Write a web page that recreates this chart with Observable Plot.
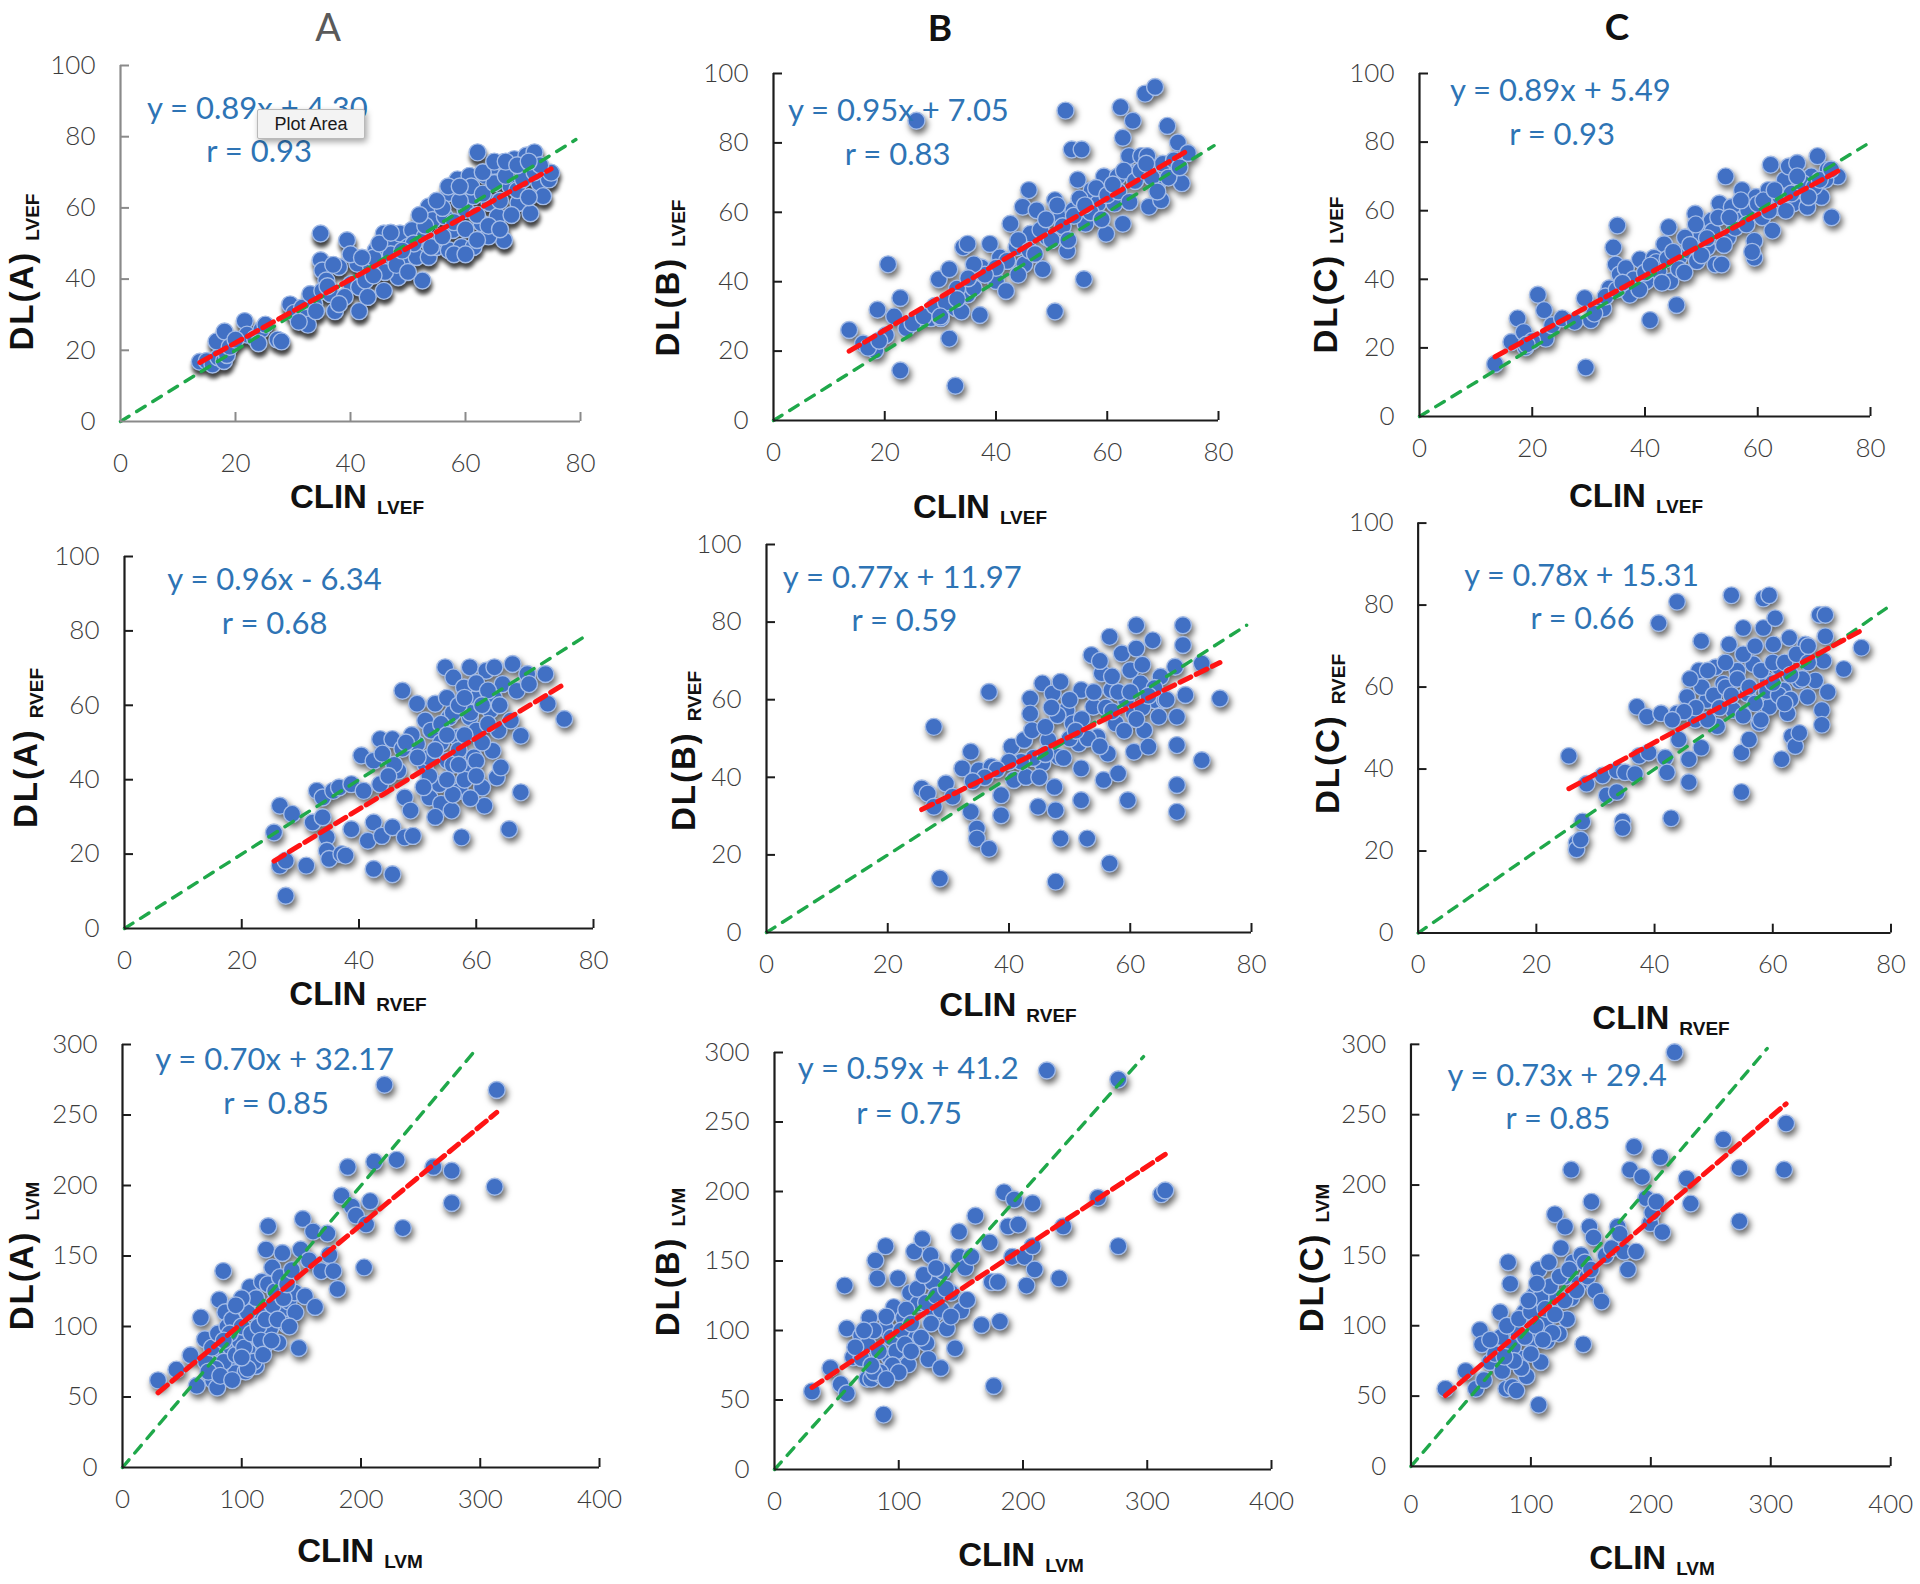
<!DOCTYPE html>
<html>
<head>
<meta charset="utf-8">
<script src="https://cdn.jsdelivr.net/npm/d3@7"></script>
<script src="https://cdn.jsdelivr.net/npm/@observablehq/plot@0.6"></script>
<style>
  html, body { margin: 0; padding: 0; background: #ffffff; }
  #page { position: relative; width: 1920px; height: 1584px; overflow: hidden; background: #fff; }
  .panel { position: absolute; }
  #overlay { position: absolute; left: 0; top: 0; pointer-events: none; }
  #tip { position: absolute; left: 257px; top: 109px; width: 106px; height: 28px; background: #f3f3f3;
         border: 1px solid #b9b9b9; box-shadow: 2px 3px 6px rgba(0,0,0,0.35); font-family: "Liberation Sans", Arial, sans-serif;
         font-size: 18px; color: #1a1a1a; line-height: 28px; text-align: center; border-radius: 2px; }
</style>
</head>
<body>
<div id="page"></div>
<script>
// ---------------- data (CLIN value, DL value) ----------------
const A_LVEF = [[13.8,16.8],[15,17],[16,16],[17,18],[18,17],[16.7,22.5],[18.1,25.3],[18.5,18.7],[21.6,28.2],[22,24.4],[23.4,23.4],[24.5,25.8],[25.2,27.2],[27.3,23],[28,22.5],[29.5,32.9],[30.2,30.5],[31.6,32],[32.3,29.1],[32.6,27.2],[33.7,32.9],[33,35.8],[34.8,52.8],[34.8,45.3],[35.1,42.4],[35.8,39.6],[35.1,36.7],[36.5,35.8],[37.3,31],[38,43.4],[39.4,50.9],[40.1,38.6],[41.2,44.3],[41.5,31],[41.5,37.7],[42.6,39.6],[43.6,43.4],[44.4,48.1],[45.8,36.7],[45.8,52.8],[46.5,45.3],[47.2,50],[48.3,40.5],[48.6,52.8],[49.3,46.2],[50,49],[50.7,53.8],[51.5,46.2],[52.5,39.6],[52.9,51.9],[53.6,60.4],[53.6,46.2],[54.3,56.6],[55,49],[55.7,51.9],[56.4,57.6],[57.1,64.2],[57.1,48.1],[57.8,53.8],[58.6,68],[59.3,49],[60,59.5],[60.7,69],[61.4,49],[61.4,63.3],[62.1,75.6],[62.8,55.7],[63.5,69],[64.2,61.4],[64.9,71.8],[65.6,57.6],[66.4,72.8],[66.7,50.9],[67.8,66.1],[68.5,73.7],[69.2,61.4],[69.9,70.9],[70.6,74.7],[71.3,58.5],[72,75.6],[72.8,67.1],[73.5,63.3],[74.5,68],[74.9,69.9],
  [44,46],[46,42],[47,47],[48,44],[50,42],[51,50],[53,55],[54,49],[56,52],[56,60],[58,56],[59,62],[60,54],[61,66],[62,58],[63,64],[64,52],[65,67],[66,62],[67,69],[68,58],[69,65],[70,68],[71,63],[72,70],[73,72],[58,47],[60,47],[62,51],[64,55],[66,54],[43,35],[44,41],[39,35],[38,33],[36,38],[37,44],[40,47],[42,46],[45,50],[47,53],[49,48],[52,58],[55,62],[57,66],[59,66],[63,70],[65,73],[67,73],[69,72],[71,73],[19,21],[20,23],[24,22],[31,28],[34,31]];

const B_LVEF = [[13.6,26.1],[16.1,22.2],[18.3,20.2],[18.7,31.9],[20.2,24.6],[20.6,45],[21.7,30],[22.8,14.4],[22.8,35.3],[23.9,26.6],[25.7,86.4],[26.8,29.5],[28.3,29.5],[29.7,40.7],[30.1,29.5],[31.6,43.6],[31.6,23.6],[32.7,10],[32.7,32.4],[33.8,31.4],[34.1,49.9],[34.9,50.9],[34.9,36.3],[36,38.2],[37.1,30.4],[37.4,44.1],[38.9,50.9],[40,40.2],[40.7,47],[41.8,37.3],[42.6,56.7],[43.7,49.9],[44.8,61.6],[45.1,45],[45.9,66.4],[46.2,53.8],[47.3,60.6],[48.4,43.6],[49.2,52.8],[50.6,31.4],[50.6,63.5],[51.7,58.7],[52.5,89.3],[52.8,48.9],[53.6,78.1],[53.9,60.6],[54.7,69.4],[55.4,78.1],[55.8,40.7],[56.1,56.7],[57.2,66.4],[58.3,62.5],[59.4,70.3],[59.8,53.8],[61.3,62.5],[61.9,70.3],[62.4,90.3],[62.8,81.5],[62.8,56.7],[63.9,76.2],[64.6,86.4],[65,71.3],[66.1,76.2],[66.8,94.2],[67.2,76.2],[67.5,61.6],[68.6,96.1],[69,68.4],[69.7,63.5],[70.8,84.9],[71.6,72.3],[72.7,80.1],[73.4,68.4],[74.5,77.1],
  [42,46],[44,52],[46,49],[48,55],[50,52],[52,56],[54,59],[55,64],[57,60],[58,67],[60,65],[62,66],[63,72],[65,69],[66,72],[68,70],[70,74],[72,75],[40,44],[38,42],[36,45],[44,42],[47,48],[49,58],[51,62],[53,52],[56,62],[59,58],[61,68],[64,63],[67,74],[69,66],[71,70],[73,73],[25,28],[27,30],[29,33],[31,34],[33,38],[35,41],[30,30],[33,35],[17,21],[19,23]];

const C_LVEF = [[13.4,15.3],[16.3,21.7],[17.4,28.6],[18.5,24.6],[18.8,20.2],[21,35.5],[22.1,31],[22.4,22.7],[23.5,26.6],[25.3,28.6],[27.5,27.6],[29.3,34.5],[29.5,14.3],[30.4,28.1],[32.6,31.5],[33.7,37.4],[34.4,49.3],[34.8,44.3],[35.1,55.7],[35.5,41.4],[36.6,43.3],[37.3,35.5],[39.1,45.8],[40.2,39.4],[40.9,28.1],[41.6,46.3],[42.4,42.4],[43.4,50.2],[44.2,55.2],[44.5,39.4],[45.6,32.5],[46,46.3],[47.1,52.2],[47.8,48.3],[48.9,59.1],[49.2,45.3],[50,53.2],[51,49.3],[51.8,57.1],[52.5,44.3],[53.2,62.1],[53.6,44.3],[54.3,70],[54.7,52.2],[55.4,61.1],[56.5,57.1],[57.2,66],[58.3,60.1],[59.4,46.3],[59.4,51.2],[59.7,64],[60.8,58.1],[61.9,66],[62.3,73.4],[62.6,54.2],[63.7,61.1],[64.8,69],[65.5,72.9],[66.3,62.1],[67,73.9],[68.1,66],[68.8,61.1],[69.5,70],[70.6,75.9],[71.3,64],[72.4,71.9],[73.1,58.1],[74.2,70],
  [38,40],[40,42],[42,45],[44,46],[46,43],[48,50],[50,47],[52,54],[54,50],[56,55],[58,56],[60,62],[62,60],[64,64],[66,65],[68,68],[70,67],[72,69],[39,37],[41,44],[43,39],[47,42],[49,56],[53,58],[55,58],[57,63],[61,63],[63,66],[65,60],[67,70],[69,64],[71,69],[73,72],[33,35],[31,30],[35,37],[20,22],[19,21],[36,39],[45,48],[51,52],[59,48]];

const A_RVEF = [[25.5,25.8],[26.5,33],[26.5,16.9],[27.5,18.2],[27.5,8.8],[28.6,30.8],[31,16.9],[32.1,28.5],[32.8,37],[33.8,35.2],[33.8,29.9],[34.5,24.5],[34.5,20.9],[34.9,18.7],[35.6,37],[36.6,37.9],[37,20],[37.7,19.6],[38.7,38.8],[38.7,26.7],[40.4,46.5],[40.8,37],[41.5,23.6],[42.5,45.1],[42.5,28.5],[42.5,16],[43.6,50.9],[43.6,38.8],[43.9,24.9],[45.7,50.9],[45.7,27.2],[45.7,14.6],[46.7,42.4],[47.4,63.9],[47.4,48.3],[47.8,35.2],[47.8,24.5],[48.8,31.7],[49.2,24.9],[49.9,60.4],[49.9,49.6],[51.3,44.2],[51.3,55.9],[52,35.2],[52.3,53.2],[53,60.4],[53.7,38.8],[54,33.5],[54.7,70.2],[55.1,45.1],[55.4,56.8],[55.8,31.7],[56.1,67.5],[56.8,51.4],[57.2,37],[57.5,24.5],[57.9,64.8],[58.2,42.4],[58.9,70.2],[58.9,56.8],[59.6,46],[60,53.2],[60.3,62.2],[61,37.9],[61.4,33],[61.7,69.3],[62.4,58.7],[62.8,47.8],[63.1,70.2],[63.5,40.6],[63.8,53.2],[64.5,65.7],[64.2,43.3],[65.6,26.7],[65.9,55.9],[66.2,71.1],[66.9,63.9],[67.6,51.8],[67.6,36.6],[68.7,68.4],[69,65.7],[71.8,68.4],[72.2,60.4],[75,56.3],
  [52,46],[54,50],[56,44],[57,48],[58,52],[59,58],[60,45],[61,50],[62,55],[63,62],[56,58],[55,62],[54,55],[53,48],[57,60],[60,66],[62,64],[64,60],[58,40],[56,36],[55,40],[59,35],[52,41],[50,46],[49,52],[46,44],[45,41],[44,47],[48,50],[51,38],[53,30],[55,52],[58,62],[61,60],[57,44],[60,41]];

const B_RVEF = [[25.6,37.1],[26.6,35.8],[27.6,32.4],[27.6,53],[28.6,13.9],[29.6,38.4],[30.7,35],[32.3,42.3],[33.7,46.6],[33.7,31.1],[34.7,26.8],[34.7,24.2],[35,41.8],[36.7,21.6],[36.7,62],[37.1,42.7],[38.7,35.4],[38.7,30.2],[40.4,47.9],[40.8,39.3],[42.5,49.6],[42.8,40.1],[43.5,60.3],[43.5,56.4],[43.8,52.1],[44.8,32.4],[45.5,64.2],[45.5,43.6],[46.5,49.6],[47.2,61.6],[47.5,37.5],[47.7,31.5],[47.7,13.1],[48.2,45.3],[48.5,64.6],[48.5,24.2],[49.5,57.3],[50.5,53.9],[51.5,48.7],[51.9,62.5],[51.9,42.3],[51.9,34.1],[52.9,24.2],[53.6,71.5],[53.9,58.2],[54.6,50.4],[55.3,66.8],[55.6,39.3],[56.3,46.1],[56.6,17.8],[56.6,76.2],[56.9,62.5],[57.6,53.9],[58,41],[58.6,71.9],[59.3,59.9],[59.6,34.1],[60,67.6],[60.6,56.4],[60.6,46.6],[61,79.2],[61,73.2],[61.7,64.2],[62.3,52.1],[63,47.9],[63.7,75.3],[64,59.9],[64.7,55.6],[65,65.9],[65.7,59.9],[67.4,68.5],[67.7,55.6],[67.7,48.3],[67.7,38],[67.7,31.1],[68.7,79.2],[68.7,74.1],[69.1,61.2],[71.8,69.3],[71.8,44.4],[74.8,60.3],
  [44,45],[46,53],[48,56],[50,60],[52,55],[54,62],[56,58],[58,62],[60,62],[62,58],[64,63],[53,50],[55,48],[57,57],[59,52],[61,55],[63,61],[66,60],[50,50],[47,58],[49,45],[51,52],[45,40],[42,44],[40,44],[38,42],[36,40],[34,39],[46,46],[62,69],[57,66],[55,70]];

const C_RVEF = [[25.5,43.2],[26.8,22],[26.8,20.4],[27.5,22.8],[27.8,27.2],[28.5,36.4],[31.2,38.4],[31.9,33.6],[33.6,34.4],[33.6,39.6],[34.6,27.2],[34.6,25.6],[35,39.2],[36.7,38.8],[37,55.2],[37.4,43.2],[38.7,52.8],[39,44],[40.7,75.6],[41.1,53.6],[41.8,42.8],[42.1,39.2],[42.8,28],[43.8,80.8],[43.8,53.6],[44.1,47.2],[45.5,57.6],[45.8,42.4],[45.8,36.8],[46.9,52],[47.5,64],[47.9,71.2],[47.9,45.2],[48.9,56.8],[50.3,64.8],[50.6,50.4],[51.6,60.8],[52.6,70.4],[53,82.4],[53.3,54.4],[54,64],[54.7,44],[54.7,34.4],[55,74.4],[55.7,58.4],[56,47.2],[56.7,65.6],[57.7,51.2],[58.4,81.6],[58.4,74.4],[59.1,61.6],[59.4,82.4],[59.4,55.2],[60.1,70.4],[60.4,76.8],[61.1,64.8],[61.5,42.4],[61.8,59.2],[62.5,53.6],[62.8,72],[63.2,48],[63.8,45.6],[64.5,48.8],[64.5,61.6],[65.5,70.4],[65.9,57.6],[67.2,61.6],[67.9,77.6],[68.3,54.4],[68.3,50.8],[68.6,66.4],[68.9,77.6],[68.9,72.4],[69.3,58.8],[72,64.4],[75,69.6],
  [48,60],[50,58],[52,60],[54,62],[56,60],[58,64],[60,66],[62,66],[64,68],[66,66],[51,55],[53,58],[55,53],[57,56],[59,59],[61,58],[63,57],[65,62],[52,66],[55,68],[57,70],[60,61],[49,52],[47,55],[45,54],[43,52],[46,62],[49,64],[58,52],[62,56],[66,70],[63,63]];

const A_LVM = [[29.8,61.8],[45.2,69.4],[57.1,79.6],[62.3,58],[65.7,106.3],[69.1,91],[76,61.8],[79.4,56.7],[81.1,119],[82.8,83.4],[84.5,139.3],[86.2,110.1],[89.6,73.2],[91.4,84.7],[94.8,66.9],[96.5,96.1],[101.6,116.5],[103.3,68.1],[106.8,127.9],[108.5,80.9],[110.2,93.6],[111.9,72],[115.3,108.8],[117,131.7],[118.7,85.9],[120.4,154.6],[122.2,171.1],[123.9,98.7],[125.6,141.9],[127.3,116.5],[130.7,88.5],[134.1,152.1],[134.1,108.8],[137.6,101.2],[139.3,117.7],[144.4,124.1],[147.8,84.7],[149.5,154.6],[151.2,176.2],[153,121.5],[156.4,147],[159.8,167.3],[161.5,113.9],[166.6,139.3],[171.8,166],[173.5,150.8],[176.9,139.3],[180.3,126.6],[183.7,192.7],[188.9,213.1],[192.3,185.1],[195.7,178.7],[202.6,141.9],[204.3,172.4],[207.7,188.9],[211.1,216.9],[219.7,271.5],[229.9,218.2],[235.1,169.8],[260.7,213.1],[276.1,210.5],[276.1,187.6],[312.1,199.1],[313.8,267.7],
  [70,75],[75,85],[80,95],[85,75],[88,100],[92,105],[95,80],[98,90],[100,100],[102,85],[105,110],[108,95],[112,120],[114,100],[116,90],[120,105],[122,130],[126,115],[128,125],[132,135],[135,120],[138,130],[142,140],[145,110],[100,120],[95,115],[90,95],[85,90],[78,70],[72,68],[82,65],[92,62],[110,75],[118,80],[125,90],[130,105],[140,100],[105,70],[100,78]];

const B_LVM = [[30.2,56.2],[45,73],[53.2,61.4],[56.5,132.3],[58.2,54.9],[58.2,101.4],[63.1,80.7],[69.7,96.2],[74.6,65.3],[76.3,109.1],[77.9,65.3],[81.2,150.4],[82.8,137.5],[86.1,67.8],[87.8,39.5],[89.4,160.7],[89.4,101.4],[92.7,80.7],[96,116.8],[99.3,137.5],[100.9,91],[104.2,109.1],[107.5,75.6],[109.1,127.2],[110.8,96.2],[112.4,156.8],[115.7,119.4],[119,165.8],[122.3,91],[123.9,79.4],[125.6,154.2],[127.2,134.9],[128.8,111.7],[133.8,73],[135.4,142.6],[138.7,101.4],[142,127.2],[145.3,87.2],[148.6,171],[148.6,153],[150.2,114.3],[153.5,145.2],[155.1,122],[158.4,153],[161.7,182.6],[166.6,104],[173.2,163.3],[174.8,134.9],[176.5,60.1],[179.8,134.9],[181.4,106.5],[184.7,199.4],[188,174.9],[191.3,153],[192.9,194.2],[196.2,176.2],[201.2,153],[202.8,132.3],[207.7,191.6],[207.7,160.7],[209.4,143.9],[219.2,287.1],[229.1,137.5],[232.4,174.9],[260.3,195.5],[276.7,280.6],[276.7,160.7],[311.3,198.1],[314.5,200.7],
  [70,80],[75,90],[80,100],[84,85],[90,110],[94,95],[98,85],[102,100],[106,115],[110,105],[115,130],[118,95],[122,120],[126,105],[130,125],[134,115],[138,130],[142,110],[95,75],[100,70],[105,90],[110,85],[85,70],[80,70],[90,65],[78,75],[65,88],[72,100],[120,140],[130,145]];

const C_LVM = [[28.7,55.2],[45.6,67.8],[54.1,55.2],[57.5,97],[59.2,86.8],[60.9,61.5],[65.9,74.2],[72.7,84.3],[74.4,109.6],[76.1,67.8],[79.5,55.2],[81.1,145.1],[82.8,129.9],[84.5,56.5],[87.9,53.9],[89.6,94.4],[91.3,76.7],[94.7,109.6],[96.4,64.1],[101.4,89.4],[103.1,122.3],[106.5,43.8],[106.5,140],[108.2,74.2],[111.6,102],[113.3,89.4],[115,145.1],[120,179.2],[121.7,119.7],[123.4,94.4],[125.1,155.2],[128.5,170.4],[128.5,134.9],[130.2,104.6],[133.6,210.9],[133.6,119.7],[135.2,145.1],[140.3,129.9],[142,150.1],[143.7,86.8],[147.1,134.9],[148.8,170.4],[150.5,188.1],[152.2,162.8],[153.8,124.8],[158.9,117.2],[162.3,150.1],[167.4,155.2],[172.4,170.4],[174.1,165.3],[177.5,152.7],[180.9,140],[182.6,210.9],[186,227.3],[187.7,152.7],[192.7,205.8],[196.1,190.6],[199.5,172.9],[201.2,180.5],[204.6,188.1],[207.9,219.7],[209.6,166.6],[219.8,294.4],[229.9,204.6],[233.3,186.8],[260.4,232.4],[273.9,212.2],[273.9,174.2],[311.1,210.9],[312.8,243.8],
  [70,80],[75,92],[80,100],[85,85],[90,105],[95,92],[100,110],[104,100],[108,120],[112,112],[116,128],[120,108],[124,135],[128,118],[132,140],[118,95],[110,90],[100,80],[92,70],[86,75],[78,78],[66,90],[138,125],[145,145],[150,140],[105,130],[98,118]];

// ---------------- tick values, fits, labels ----------------
const efTicksX = [0, 20, 40, 60, 80];
const efTicksY = [0, 20, 40, 60, 80, 100];
const lvmTicksX = [0, 100, 200, 300, 400];
const lvmTicksY = [0, 50, 100, 150, 200, 250, 300];
const slopes = [0.89, 0.95, 0.89, 0.96, 0.77, 0.78, 0.70, 0.59, 0.73];
const intercepts = [4.30, 7.05, 5.49, -6.34, 11.97, 15.31, 32.17, 41.2, 29.4];
const eqLabels = ["y = 0.89x + 4.30", "y = 0.95x + 7.05", "y = 0.89x + 5.49",
                  "y = 0.96x - 6.34", "y = 0.77x + 11.97", "y = 0.78x + 15.31",
                  "y = 0.70x + 32.17", "y = 0.59x + 41.2", "y = 0.73x + 29.4"];
const rLabels = ["r = 0.93", "r = 0.83", "r = 0.93", "r = 0.68", "r = 0.59", "r = 0.66", "r = 0.85", "r = 0.75", "r = 0.85"];
const colTitles = ["A", "B", "C"];
const methods = ["DL(A)", "DL(B)", "DL(C)"];
const measures = ["LVEF", "RVEF", "LVM"];
const clinLabel = "CLIN";

// ---------------- layout (page pixels) ----------------
const frames = [
  {L:120, R:580,  T:65,   B:421},  {L:773, R:1218, T:73,   B:420},  {L:1419, R:1870, T:73,   B:416},
  {L:124, R:593,  T:556,  B:928},  {L:766, R:1251, T:544,  B:932},  {L:1419, R:1900, T:523,  B:940},
  {L:122, R:599,  T:1044, B:1467}, {L:774, R:1271, T:1052, B:1469}, {L:1411, R:1894, T:1044, B:1469}
];
// equation / r text anchors in data units
const eqPos = [[4.6,85.1],[2.6,86.4],[5.4,92.1],[7.3,91],[2.7,88.9],[7.8,84.6],[27.4,282.2],[18.7,280.6],[30.4,270.4]];
const rPos  = [[14.9,72.8],[12.8,73.5],[15.9,79.3],[16.6,79.2],[14,77.7],[19,74.2],[84.5,250.7],[65.7,248.4],[78.8,240]];
const xLabelPos = [[357,508],[980,518],[1636,507],[358,1005],[1008,1016],[1661,1029],[360,1562],[1021,1566],[1652,1569]];
const yLabelPos = [[33,272],[679,278],[1337,275],[37,748],[695,751],[1339,734],[33,1256],[679,1262],[1323,1258]];
const titlePos = [[328,41,"#5a5a5a",400,38],[940,41,"#111",700,37],[1617,40,"#111",700,37]];

const datasets = [A_LVEF, B_LVEF, C_LVEF, A_RVEF, B_RVEF, C_RVEF, A_LVM, B_LVM, C_LVM];

const page = document.getElementById("page");
const mL = 80, mR = 30, mT = 24, mB = 64;

datasets.forEach((data, i) => {
  const row = Math.floor(i / 3);
  const f = frames[i];
  const w = f.R - f.L, h = f.B - f.T;
  const lvm = row === 2;
  const xTicks = lvm ? lvmTicksX : efTicksX;
  const yTicks = lvm ? lvmTicksY : efTicksY;
  const xMax = d3.max(xTicks), yMax = d3.max(yTicks);
  const axisColor = i === 0 ? "#8a8a8a" : "#1c1c1c";
  const [x0, x1] = d3.extent(data, d => d[0]);
  const reg = [[x0, slopes[i] * x0 + intercepts[i]], [x1, slopes[i] * x1 + intercepts[i]]];
  const idEnd = Math.min(xMax, yMax) * 0.99;
  const tickLenY = yMax * 9 / h;    // 9px tick measured in y units
  const tickLenX = xMax * 9 / w;    // 9px tick measured in x units
  const xPad = i === 0 ? 32 : (i === 8 ? 28 : 22);

  const svg = Plot.plot({
    width: w + mL + mR, height: h + mT + mB,
    marginLeft: mL, marginRight: mR, marginTop: mT, marginBottom: mB,
    x: {domain: [0, xMax]},
    y: {domain: [0, yMax]},
    style: {background: "transparent", overflow: "visible", fontFamily: "Lato, 'Liberation Sans', sans-serif",
            fontSize: "26px", color: "#404040"},
    marks: [
      Plot.dot(data, {x: d => d[0], y: d => d[1], r: 8.5, fill: "#4170c4", stroke: "#a3bbe6", strokeWidth: 1.4}),
      Plot.line([[0, 0], [idEnd, idEnd]], {stroke: "#1fa84a", strokeWidth: 3.4, strokeDasharray: "10,9"}),
      Plot.line(reg, {stroke: "#ff1414", strokeWidth: 5, strokeDasharray: "12,6"}),
      Plot.ruleY([0], {stroke: axisColor, strokeWidth: 2.2}),
      Plot.ruleX([0], {stroke: axisColor, strokeWidth: 2.2}),
      Plot.ruleX(xTicks.slice(1), {x: d => d, y1: () => 0, y2: () => tickLenY, stroke: axisColor, strokeWidth: 2}),
      Plot.ruleY(yTicks.slice(1), {y: d => d, x1: () => 0, x2: () => tickLenX, stroke: axisColor, strokeWidth: 2}),
      Plot.axisX(xTicks, {tickSize: 0, tickPadding: xPad, label: null, fontWeight: 300, fill: "#3c3c3c", fontSize: 26}),
      Plot.axisY(yTicks, {tickSize: 0, tickPadding: 25, label: null, fontWeight: 300, fill: "#3c3c3c", fontSize: 26}),
      Plot.text([eqLabels[i]], {x: () => eqPos[i][0], y: () => eqPos[i][1], text: d => d, textAnchor: "start",
                 lineAnchor: "bottom", fill: "#2e74b5", fontSize: 31, fontFamily: "Lato, sans-serif", fontWeight: 400}),
      Plot.text([rLabels[i]], {x: () => rPos[i][0], y: () => rPos[i][1], text: d => d, textAnchor: "start",
                 lineAnchor: "bottom", fill: "#2e74b5", fontSize: 31, fontFamily: "Lato, sans-serif", fontWeight: 400})
    ]
  });
  const g = svg.querySelector('g[aria-label="dot"]');
  if (g) g.style.filter = i === 0
    ? "drop-shadow(1px 5px 2px rgba(0,0,0,0.75))"
    : "drop-shadow(2px 4px 3px rgba(0,0,0,0.6))";
  const div = document.createElement("div");
  div.className = "panel";
  div.style.left = (f.L - mL) + "px";
  div.style.top = (f.T - mT) + "px";
  div.appendChild(svg);
  page.appendChild(div);
});

// ---------------- axis titles, column titles ----------------
const NS = "http://www.w3.org/2000/svg";
const ov = document.createElementNS(NS, "svg");
ov.setAttribute("id", "overlay");
ov.setAttribute("width", 1920);
ov.setAttribute("height", 1584);
page.appendChild(ov);

function label(main, sub, x, y, rotate, spacing) {
  const t = document.createElementNS(NS, "text");
  t.setAttribute("text-anchor", "middle");
  t.setAttribute("font-family", "'Liberation Sans', Arial, sans-serif");
  t.setAttribute("font-weight", "700");
  t.setAttribute("font-size", "33");
  t.setAttribute("fill", "#111");
  t.setAttribute("transform", rotate ? `translate(${x},${y}) rotate(-90)` : `translate(${x},${y})`);
  const a = document.createElementNS(NS, "tspan");
  a.textContent = main;
  if (spacing) a.setAttribute("letter-spacing", spacing);
  const b = document.createElementNS(NS, "tspan");
  b.textContent = sub;
  b.setAttribute("font-size", "19");
  b.setAttribute("dx", "10");
  b.setAttribute("dy", "6");
  t.appendChild(a); t.appendChild(b);
  ov.appendChild(t);
}

datasets.forEach((_, i) => {
  const row = Math.floor(i / 3), col = i % 3;
  label(clinLabel, measures[row], xLabelPos[i][0], xLabelPos[i][1], false, null);
  label(methods[col], measures[row], yLabelPos[i][0], yLabelPos[i][1], true, "2");
});

colTitles.forEach((c, k) => {
  const [x, y, fill, wt, fs] = titlePos[k];
  const t = document.createElementNS(NS, "text");
  t.setAttribute("x", x); t.setAttribute("y", y);
  t.setAttribute("text-anchor", "middle");
  t.setAttribute("font-family", "Lato, 'Liberation Sans', sans-serif");
  t.setAttribute("font-weight", wt);
  t.setAttribute("font-size", fs);
  t.setAttribute("fill", fill);
  t.textContent = c;
  ov.appendChild(t);
});

// screenshot artefact: Excel "Plot Area" tooltip over panel A
const tip = document.createElement("div");
tip.id = "tip";
tip.textContent = "Plot Area";
page.appendChild(tip);
</script>
</body>
</html>
